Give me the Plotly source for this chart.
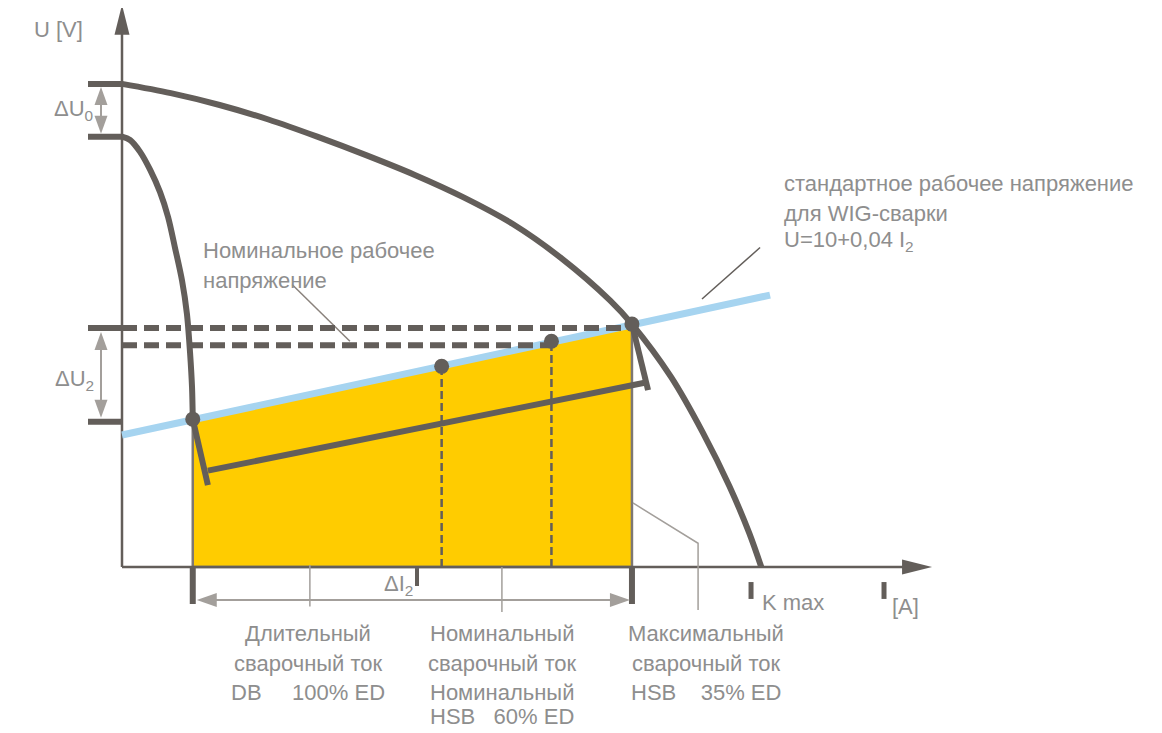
import plotly.graph_objects as go

# the page body has an 8px margin, so the figure is drawn 8px in from the window edge
OFF = 8
W, H = 1162 - 2 * OFF, 733 - 2 * OFF
PX_PER_A, PX_PER_V = 2.44, 13.2   # drawing scale of the schematic
X0, Y0 = 122 - OFF, 567 - OFF     # figure position of I=0, U=0

DARK = "#635e5a"
GREY = "#a39f9b"
TEXT = "#8e8e8e"
BLUE = "#a6d4f0"
YELLOW = "#ffcc00"
FONT = "Liberation Sans, Arial, sans-serif"

# falling static characteristic, max setting (outer) and min setting (inner)
i_outer = [0, 20, 40, 60, 80, 100, 120, 140, 160, 180, 200, 209, 225, 238, 249, 257, 262]
u_outer = [36.6, 35.9, 35.0, 33.9, 32.6, 31.2, 29.7, 28.0, 26.0, 23.4, 20.2, 18.4, 14.4, 10.2, 6.1, 2.6, 0]
i_inner = [0, 3.3, 7.4, 11.5, 15.6, 18.9, 21.7, 24.6, 26.6, 27.9, 28.7, 29]
u_inner = [32.6, 32.35, 31.45, 30.1, 28.4, 26.5, 24.2, 21.7, 19.2, 16.2, 13.6, 11.2]

# standard TIG working voltage U = 10 + 0.04 I2
i_std = [0, 265.6]
u_std = [10.0, 20.6]

# working points: DB 100% ED, HSB 60% ED, nominal, HSB 35% ED
i_pts = [29, 131, 176, 209]
u_pts = [11.2, 15.2, 17.1, 18.4]

# nominal working voltage levels (dashed)
u_nom = [18.1, 16.8]
i_nom_end = [209, 176]

# marks on the voltage axis (U0 max, U0 min, ΔU2 limits)
u_marks = [36.6, 32.6, 18.1, 11.0]

# load line of the working range
i_load = [29, 35.2, None, 35.2, 215.2, None, 209, 215.6]
u_load = [11.2, 6.2, None, 7.3, 14.0, None, 18.4, 13.4]

i_axis_end, u_axis_end = 332, 42.6


def da(px):
    return px / PX_PER_A


def dv(px):
    return px / PX_PER_V


fig = go.Figure()


def seg(xs, ys, color=DARK, width=2.5, dash=None, shape="linear"):
    fig.add_trace(go.Scatter(x=xs, y=ys, mode="lines", hoverinfo="skip",
                             line=dict(color=color, width=width, dash=dash, shape=shape, smoothing=0.9)))


def head(x, y, d, length, width, color):
    hl, hw = length, width / 2
    if d == "up":
        xs, ys = [x, x - da(hw), x + da(hw), x], [y, y - dv(hl), y - dv(hl), y]
    elif d == "down":
        xs, ys = [x, x - da(hw), x + da(hw), x], [y, y + dv(hl), y + dv(hl), y]
    elif d == "right":
        xs, ys = [x, x - da(hl), x - da(hl), x], [y, y - dv(hw), y + dv(hw), y]
    else:
        xs, ys = [x, x + da(hl), x + da(hl), x], [y, y - dv(hw), y + dv(hw), y]
    fig.add_trace(go.Scatter(x=xs, y=ys, mode="lines", fill="toself", fillcolor=color,
                             line=dict(width=0, color=color), hoverinfo="skip"))


# working range (yellow)
fig.add_trace(go.Scatter(
    x=[i_pts[0], i_pts[0], i_pts[3], i_pts[3], i_pts[0]],
    y=[0, u_pts[0], u_pts[3], 0, 0],
    mode="lines", fill="toself", fillcolor=YELLOW,
    line=dict(color="#7d7773", width=2.5), hoverinfo="skip"))

# axes
seg([0, 0], [0, u_axis_end - dv(28)], width=2.5)
head(0, u_axis_end, "up", 30, 15, DARK)
seg([0, i_axis_end - da(28)], [0, 0], width=2.5)
head(i_axis_end, 0, "right", 30, 15, DARK)

# leader lines
seg([69.7, 93.4], [21.4, 17.1], color="#8a827c", width=1.5)
seg([237.7, 261.5], [20.3, 24.2], color=DARK, width=1.5)
seg([209.4, 236.1, 236.1], [4.85, 1.8, -3.26], color=GREY, width=1.5)
seg([77, 77], [0.15, -3.0], color=GREY, width=1.5)
seg([155.7, 155.7], [0, -3.4], color=GREY, width=1.5)

# standard voltage line
seg(i_std, u_std, color=BLUE, width=7)

# dashed nominal voltage levels
for u, ie in zip(u_nom, i_nom_end):
    seg([0, ie], [u, u], width=6, dash="15px,7px")

# vertical dashed drop lines from 60% and nominal points
for i, u in zip(i_pts[1:3], u_pts[1:3]):
    seg([i, i], [0, u], width=2.5, dash="8px,4px")

# marks on the voltage axis
for u in u_marks:
    seg([-da(34), 0], [u, u], width=6)

# ticks under the current axis
for i in (i_pts[0], i_pts[3]):
    seg([i, i], [0, -dv(37)], width=6)
seg([120.9, 120.9], [-0.08, -1.44], width=4)
seg([257.8, 257.8], [-1.14, -2.42], width=5)
seg([312.3, 312.3], [-1.14, -2.42], width=5)

# characteristics
seg(i_outer, u_outer, width=6, shape="spline")
seg(i_inner, u_inner, width=6, shape="spline")
seg(i_load, u_load, width=6)

# working points
fig.add_trace(go.Scatter(x=i_pts, y=u_pts, mode="markers", hoverinfo="skip",
                         marker=dict(size=15, color=DARK)))

# ΔU0, ΔU2, ΔI2 double arrows
xa = -da(21)
seg([xa, xa], [u_marks[0] - dv(18), u_marks[1] + dv(18)], color=GREY, width=2)
head(xa, u_marks[0] - dv(3), "up", 18, 13, GREY)
head(xa, u_marks[1] + dv(3), "down", 18, 13, GREY)
seg([xa, xa], [u_marks[2] - dv(18), u_marks[3] + dv(18)], color=GREY, width=2)
head(xa, u_marks[2] - dv(4), "up", 18, 13, GREY)
head(xa, u_marks[3] + dv(4), "down", 18, 13, GREY)
ya = -dv(33)
seg([i_pts[0] + da(20), i_pts[3] - da(20)], [ya, ya], color=GREY, width=2)
head(i_pts[0] + da(4), ya, "left", 20, 14, GREY)
head(i_pts[3] - da(2), ya, "right", 20, 14, GREY)

# texts (positions in window pixels)
labels = [
    ("U [V]", 32, 30, "left"),
    ("ΔU<sub>0</sub>", 52, 110, "left"),
    ("ΔU<sub>2</sub>", 53, 380, "left"),
    ("ΔI<sub>2</sub>", 382, 585, "left"),
    ("Номинальное рабочее", 201, 250, "left"),
    ("напряжение", 201, 280, "left"),
    ("стандартное рабочее напряжение", 782, 183, "left"),
    ("для WIG-сварки", 782, 213, "left"),
    ("U=10+0,04 I<sub>2</sub>", 782, 241, "left"),
    ("K max", 760, 602, "left"),
    ("[A]", 890, 606, "left"),
    ("Длительный", 308, 633, "center"),
    ("сварочный ток", 308, 663, "center"),
    ("DB\u00a0\u00a0\u00a0\u00a0 100% ED", 308, 692, "center"),
    ("Номинальный", 502, 633, "center"),
    ("сварочный ток", 502, 663, "center"),
    ("Номинальный", 502, 692, "center"),
    ("HSB\u00a0\u00a0 60% ED", 502, 716, "center"),
    ("Максимальный", 706, 633, "center"),
    ("сварочный ток", 706, 663, "center"),
    ("HSB\u00a0\u00a0\u00a0 35% ED", 706, 692, "center"),
]
for txt, x, y, anchor in labels:
    fig.add_annotation(text=txt, x=(x - OFF) / W, y=1 - (y - OFF) / H, xref="paper", yref="paper",
                       xanchor=anchor, yanchor="middle", showarrow=False,
                       font=dict(family=FONT, size=22, color=TEXT))

fig.update_layout(
    width=W, height=H, margin=dict(l=0, r=0, t=0, b=0),
    paper_bgcolor="white", plot_bgcolor="white", showlegend=False,
    xaxis=dict(range=[-X0 / PX_PER_A, (W - X0) / PX_PER_A], visible=False),
    yaxis=dict(range=[(Y0 - H) / PX_PER_V, Y0 / PX_PER_V], visible=False),
)

fig.write_html("out.html")
